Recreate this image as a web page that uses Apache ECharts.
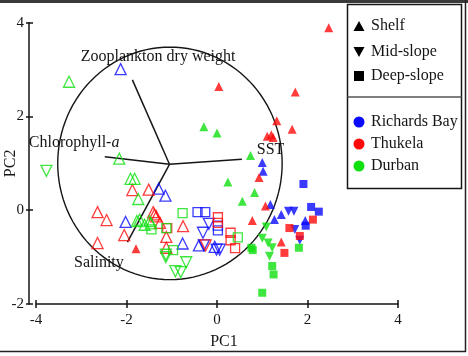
<!DOCTYPE html>
<html>
<head>
<meta charset="UTF-8">
<title>PCA biplot</title>
<script src="https://cdn.jsdelivr.net/npm/echarts@6/dist/echarts.min.js"></script>
<style>
    html, body { margin: 0; padding: 0; background: #fff; }
    #chart { width: 468px; height: 356px; }
</style>
</head>
<body>
<div id="chart"></div>
<script>
// ---- data (PC1, PC2) ----
// Richards Bay
var rbShelfFilled = [[1.00,1.02],[1.02,0.83],[1.18,0.12],[1.27,-0.20],[1.42,-0.09],[1.95,-0.22]];
var rbMidFilled   = [[1.58,-0.02],[1.70,-0.02],[1.72,-0.41],[1.83,-0.64]];
var rbDeepFilled  = [[1.91,0.56],[2.08,0.07],[2.25,-0.03],[1.96,-0.33]];
var rbShelfOpen   = [[-2.13,3.01],[-1.29,0.46],[-1.14,0.31],[-2.02,-0.25],[-0.76,-0.71],[-0.40,-0.75],[-0.05,-0.78]];
var rbMidOpen     = [[-0.31,-0.48],[-0.18,-0.29],[-0.29,-0.75],[-0.01,-0.84],[0.06,-0.84]];
var rbDeepOpen    = [[-0.43,-0.04],[-0.26,-0.04],[0.02,-0.33],[0.02,-0.43]];
// Thukela
var thShelfFilled = [[2.47,3.89],[0.04,2.64],[1.73,2.52],[1.32,1.91],[1.66,1.73],[1.11,1.58],[1.20,1.61],[1.24,1.55],[0.93,0.70],[1.07,0.09],[0.78,-0.22],[1.42,-0.68],[-1.79,-0.82]];
var thDeepFilled  = [[2.12,-0.20],[1.60,-0.38],[1.83,-0.55],[1.49,-0.91]];
var thShelfOpen   = [[-2.64,-0.04],[-2.44,-0.21],[-2.64,-0.70],[-2.05,-0.53],[-1.87,0.43],[-1.51,0.44],[-1.41,-0.04],[-1.38,-0.09],[-1.34,-0.13],[-1.26,-0.27],[-1.12,-0.57],[-1.12,-0.80],[-0.75,-0.34]];
var thMidOpen     = [[-0.25,-0.75]];
var thDeepOpen    = [[-1.10,-0.38],[0.02,-0.15],[0.02,-0.27],[0.30,-0.48],[0.30,-0.64],[0.40,-0.81]];
// Durban
var duShelfFilled = [[-0.29,1.78],[0.00,1.65],[0.74,1.17],[0.24,0.60],[0.83,0.38],[0.56,0.19]];
var duMidFilled   = [[1.09,-0.36],[1.00,-0.60],[1.13,-0.70],[1.22,-0.80],[1.16,-0.98]];
var duDeepFilled  = [[0.76,-0.80],[0.79,-0.85],[1.22,-1.19],[1.25,-1.37],[1.00,-1.76],[1.81,-0.80]];
var duShelfOpen   = [[-3.27,2.74],[-2.16,1.10],[-1.91,0.67],[-1.82,0.67],[-1.74,0.24],[-1.77,-0.23],[-1.60,-0.31],[-1.49,-0.23],[-1.71,-0.20],[-1.46,-0.28]];
var duMidOpen     = [[-3.77,0.84],[-1.13,-0.95],[-1.13,-1.00],[-0.68,-1.11],[-0.92,-1.30],[-0.80,-1.32]];
var duDeepOpen    = [[-1.45,-0.41],[-1.12,-0.38],[-0.76,-0.06],[-0.97,-0.85],[0.46,-0.58]];

// loadings / correlation circle
var loadingNames  = ['Zooplankton dry weight', 'Chlorophyll-a', 'SST', 'Salinity'];
var loadingOrigin = [-1.05, 0.98];
var loadingEnds   = [[-1.87,2.78],[-2.48,1.14],[0.55,1.09],[-1.98,-0.68]];
var labelAnchors  = [[-3.01,3.27],[-4.16,1.43],[0.88,1.28],[-3.16,-1.12]];
var circleCenter  = [-1.04, 1.00];
var circleRadius  = 2.48;

var xTicks = [-4, 4, 2];   // min, max, interval
var yTicks = [-2, 4, 2];

var legendZones   = ['Shelf', 'Mid-slope', 'Deep-slope'];
var legendRegions = ['Richards Bay', 'Thukela', 'Durban'];

var BLUE = '#0a0aff', RED = '#ff0a0a', GREEN = '#10e010';
var SERIF = '"Liberation Serif", "Times New Roman", serif';
var INK = '#151515';

var groups = [
    [rbShelfFilled, BLUE, 'shelf', true], [rbMidFilled, BLUE, 'mid', true], [rbDeepFilled, BLUE, 'deep', true],
    [rbShelfOpen, BLUE, 'shelf', false], [rbMidOpen, BLUE, 'mid', false], [rbDeepOpen, BLUE, 'deep', false],
    [thShelfFilled, RED, 'shelf', true], [thDeepFilled, RED, 'deep', true],
    [thShelfOpen, RED, 'shelf', false], [thMidOpen, RED, 'mid', false], [thDeepOpen, RED, 'deep', false],
    [duShelfFilled, GREEN, 'shelf', true], [duMidFilled, GREEN, 'mid', true], [duDeepFilled, GREEN, 'deep', true],
    [duShelfOpen, GREEN, 'shelf', false], [duMidOpen, GREEN, 'mid', false], [duDeepOpen, GREEN, 'deep', false]
];

var series = [];

// correlation circle
series.push({
    type: 'custom',
    silent: true,
    clip: false,
    data: [[circleCenter[0], circleCenter[1], circleRadius]],
    renderItem: function (params, api) {
        var cx = api.value(0), cy = api.value(1), r = api.value(2);
        var pts = [];
        for (var i = 0; i <= 120; i++) {
            var t = i / 120 * Math.PI * 2;
            pts.push(api.coord([cx + r * Math.cos(t), cy + r * Math.sin(t)]));
        }
        return { type: 'polyline', shape: { points: pts }, style: { stroke: INK, lineWidth: 1.4, fill: null } };
    },
    z: 1
});

// loading vectors
series.push({
    type: 'lines',
    coordinateSystem: 'cartesian2d',
    silent: true,
    data: loadingEnds.map(function (e) { return { coords: [loadingOrigin, e] }; }),
    lineStyle: { color: INK, width: 1.5, opacity: 1 },
    z: 1
});

groups.forEach(function (g) {
    var zone = g[2], filled = g[3];
    series.push({
        type: 'scatter',
        data: g[0],
        symbol: zone === 'deep' ? 'rect' : 'triangle',
        symbolRotate: zone === 'mid' ? 180 : 0,
        symbolSize: filled ? (zone === 'deep' ? 8 : 9) : (zone === 'deep' ? 9 : 11),
        itemStyle: filled
            ? { color: g[1] }
            : { color: 'rgba(0,0,0,0)', borderColor: g[1], borderWidth: 1.3 },
        z: 3
    });
});

var labelStyle = { color: INK, fontSize: 15, fontFamily: SERIF };

// frame + legend drawn as graphics
var graphics = [
    { type: 'rect', shape: { x: 0, y: 0, width: 468, height: 3 }, style: { fill: '#3a3a3a' } },
    { type: 'line', shape: { x1: 465.5, y1: 0, x2: 465.5, y2: 352 }, style: { stroke: '#222', lineWidth: 1.5 } },
    { type: 'line', shape: { x1: 0, y1: 351.5, x2: 466, y2: 351.5 }, style: { stroke: '#222', lineWidth: 1.5 } },
    { type: 'rect', shape: { x: 347.5, y: 4.5, width: 114, height: 184 }, style: { fill: '#fff', stroke: INK, lineWidth: 1.5 }, z: 10 },
    { type: 'line', shape: { x1: 347.5, y1: 97, x2: 461.5, y2: 97 }, style: { stroke: '#555', lineWidth: 1.5 }, z: 11 }
];
var zoneY = [26, 52, 76];
var regionY = [122, 144, 166];
var regionCol = [BLUE, RED, GREEN];
legendZones.forEach(function (name, i) {
    var y = zoneY[i], mark;
    if (i === 0) mark = { type: 'polygon', shape: { points: [[353.5, y + 5], [364.5, y + 5], [359, y - 5]] } };
    else if (i === 1) mark = { type: 'polygon', shape: { points: [[353.5, y - 5], [364.5, y - 5], [359, y + 5]] } };
    else mark = { type: 'rect', shape: { x: 354, y: y - 5, width: 10, height: 10 } };
    mark.style = { fill: '#000' };
    mark.z = 12;
    graphics.push(mark);
    graphics.push({ type: 'text', x: 371, y: y, z: 12,
        style: { text: name, fill: INK, font: '16px ' + SERIF, verticalAlign: 'middle' } });
});
legendRegions.forEach(function (name, i) {
    var y = regionY[i];
    graphics.push({ type: 'circle', shape: { cx: 359, cy: y, r: 5.5 }, style: { fill: regionCol[i] }, z: 12 });
    graphics.push({ type: 'text', x: 371, y: y, z: 12,
        style: { text: name, fill: INK, font: '16px ' + SERIF, verticalAlign: 'middle' } });
});

var option = {
    backgroundColor: '#fff',
    animation: false,
    grid: { left: 36, right: 70, top: 22.7, bottom: 52, containLabel: false, outerBoundsMode: 'none' },
    xAxis: [{
        type: 'value', min: xTicks[0], max: xTicks[1], interval: xTicks[2],
        splitLine: { show: false },
        axisLine: { onZero: false, lineStyle: { color: INK, width: 1.5 } },
        axisTick: { length: 4, lineStyle: { color: INK, width: 1.5 } },
        axisLabel: Object.assign({ margin: 9 }, labelStyle),
        name: 'PC1', nameLocation: 'middle', nameGap: 30,
        nameTextStyle: { color: INK, fontSize: 16, fontFamily: SERIF, padding: [0, 0, 0, 14] }
    }, {
        type: 'value', min: xTicks[0], max: xTicks[1], interval: xTicks[2], position: 'bottom',
        splitLine: { show: false }, axisLine: { show: false, onZero: false }, axisLabel: { show: false },
        axisTick: { inside: true, length: 4, lineStyle: { color: INK, width: 1.5 } }
    }],
    yAxis: [{
        type: 'value', min: yTicks[0], max: yTicks[1], interval: yTicks[2], offset: 7,
        splitLine: { show: false },
        axisLine: { onZero: false, lineStyle: { color: INK, width: 1.5 } },
        axisTick: { length: 3, lineStyle: { color: INK, width: 1.5 } },
        axisLabel: Object.assign({ margin: 5 }, labelStyle),
        name: 'PC2', nameLocation: 'middle', nameGap: 10, nameRotate: 90, nameMoveOverlap: false,
        nameTextStyle: { color: INK, fontSize: 16, fontFamily: SERIF }
    }, {
        type: 'value', min: yTicks[0], max: yTicks[1], interval: yTicks[2], offset: 7, position: 'left',
        splitLine: { show: false }, axisLine: { show: false, onZero: false }, axisLabel: { show: false },
        axisTick: { inside: true, length: 4, lineStyle: { color: INK, width: 1.5 } }
    }],
    graphic: graphics,
    series: series
};

var chart = echarts.init(document.getElementById('chart'), null, { renderer: 'canvas' });
chart.setOption(option);

// loading labels, placed through the grid's own scale
var labelRich = {
    n: { fontSize: 16, fontFamily: SERIF, fill: INK },
    i: { fontSize: 16, fontFamily: SERIF, fill: INK, fontStyle: 'italic' }
};
labelAnchors.forEach(function (p, i) {
    var px = chart.convertToPixel({ gridIndex: 0 }, p);
    var txt = loadingNames[i] === 'Chlorophyll-a' ? '{n|Chlorophyll-}{i|a}' : '{n|' + loadingNames[i] + '}';
    graphics.push({ type: 'text', x: px[0], y: px[1], z: 5, silent: true,
        style: { text: txt, rich: labelRich, verticalAlign: 'middle', align: 'left' } });
});
chart.setOption({ graphic: graphics });
</script>
</body>
</html>
